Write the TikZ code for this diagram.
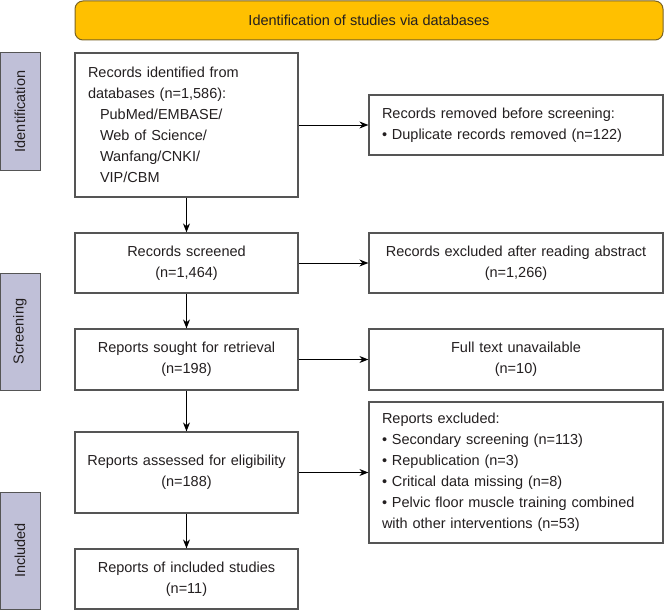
\documentclass[tikz,border=0pt]{standalone}
\usepackage{fontspec}
\setmainfont{Liberation Sans}
\usetikzlibrary{arrows.meta}
\definecolor{amber}{HTML}{FFC000}
\definecolor{bandborder}{HTML}{7A6424}
\definecolor{sidefill}{HTML}{C0C0D8}
\definecolor{boxborder}{HTML}{555555}
\definecolor{txt}{HTML}{231F20}
\begin{document}
\begin{tikzpicture}[x=1pt,y=-1pt,
  every node/.style={font=\fontsize{14.5}{21}\selectfont, text=txt},
  box/.style={draw=boxborder, line width=1.2pt, fill=white, inner ysep=0pt},
  leftbox/.style={box, minimum width=223pt, text width=203pt, inner xsep=10pt, align=center},
  rightbox/.style={box, minimum width=294pt, text width=274pt, inner xsep=10pt, align=center},
  rightlist/.style={box, minimum width=294pt, text width=268pt, inner xsep=13pt, align=left},
  sidelabel/.style={draw=boxborder, line width=1pt, fill=sidefill, rotate=90, minimum width=117pt, minimum height=40pt, inner sep=0pt},
  banner/.style={draw=bandborder, line width=1pt, fill=amber, rounded corners=8pt, minimum width=588pt, minimum height=39pt, inner sep=0pt},
  arr/.style={-{Stealth[length=9pt,width=7pt]}, line width=1pt, black}
]
\useasboundingbox (0,0) rectangle (664,610);

\node[banner] (ban) at (369,20.5) {Identification of studies via databases};

\node[sidelabel] (sid) at (20,111.5) {Identification};
\node[sidelabel] (sscr) at (20,331.5) {Screening};
\node[sidelabel] (sinc) at (20,550.5) {Included};

\node[leftbox, align=left, text width=197pt, inner xsep=13pt, minimum height=144pt] (b1) at (186.5,125)
  {Records identified from\\databases (n=1,586):\\\hspace*{12pt}PubMed/EMBASE/\\\hspace*{12pt}Web of Science/\\\hspace*{12pt}Wanfang/CNKI/\\\hspace*{12pt}VIP/CBM};
\node[leftbox, minimum height=60pt] (b2) at (186.5,263) {Records screened\\(n=1,464)};
\node[leftbox, minimum height=61pt] (b3) at (186.5,359.5) {Reports sought for retrieval\\(n=198)};
\node[leftbox, minimum height=81pt] (b4) at (186.5,472.5) {Reports assessed for eligibility\\(n=188)};
\node[leftbox, minimum height=60pt] (b5) at (186.5,579) {Reports of included studies\\(n=11)};

\node[rightlist, minimum height=60pt] (r1) at (516,125)
  {Records removed before screening:\\\textbullet\ Duplicate records removed (n=122)};
\node[rightbox, minimum height=60pt] (r2) at (516,263) {Records excluded after reading abstract\\(n=1,266)};
\node[rightbox, minimum height=61pt] (r3) at (516,359.5) {Full text unavailable\\(n=10)};
\node[rightlist, minimum height=141pt] (r4) at (516,472.5)
  {Reports excluded:\\\textbullet\ Secondary screening (n=113)\\\textbullet\ Republication (n=3)\\\textbullet\ Critical data missing (n=8)\\\textbullet\ Pelvic floor muscle training combined\\with other interventions (n=53)};

\draw[arr] (b1) -- (b2);
\draw[arr] (b2) -- (b3);
\draw[arr] (b3) -- (b4);
\draw[arr] (b4) -- (b5);
\draw[arr] (b1) -- (r1);
\draw[arr] (b2) -- (r2);
\draw[arr] (b3) -- (r3);
\draw[arr] (b4) -- (r4);
\end{tikzpicture}
\end{document}
